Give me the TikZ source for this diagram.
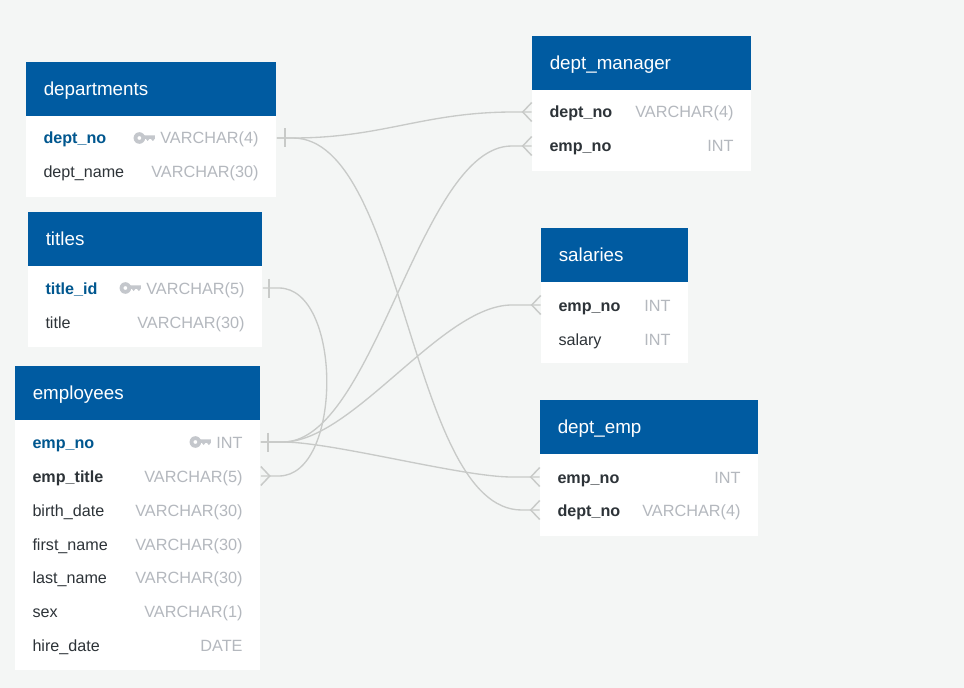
\documentclass[tikz,border=0pt]{standalone}
\usepackage{fontspec}
\setmainfont{Liberation Sans}
\usetikzlibrary{calc}
\definecolor{pagebg}{HTML}{F4F6F5}
\definecolor{headblue}{HTML}{005BA1}
\definecolor{pkblue}{HTML}{00578F}
\definecolor{darktext}{HTML}{2D3338}
\definecolor{typegrey}{HTML}{B4B8BE}
\definecolor{keygrey}{HTML}{C4C7CC}
\definecolor{linkgrey}{HTML}{C8CAC8}
\tikzset{
  headbox/.style={fill=headblue,draw=none,inner sep=0pt,anchor=north west},
  bodybox/.style={fill=white,draw=none,inner sep=0pt,anchor=north west},
  rowcell/.style={draw=none,inner sep=0pt,minimum height=25.5pt},
  headtext/.style={text=white,font=\fontsize{14.1}{16}\selectfont,inner sep=0pt,anchor=base west},
  fieldtext/.style={text=darktext,font=\fontsize{12.1}{14}\selectfont,inner sep=0pt,anchor=base west},
  fkfield/.style={fieldtext,font=\fontsize{12.1}{14}\selectfont\bfseries},
  pkfield/.style={fieldtext,text=pkblue,font=\fontsize{12.1}{14}\selectfont\bfseries},
  typetext/.style={text=typegrey,font=\fontsize{12.2}{14}\selectfont,inner sep=0pt,anchor=base east},
  link/.style={draw=linkgrey,line width=1pt},
  endmark/.style={draw=linkgrey,line width=1.1pt}
}
% \etable{name}{x}{y}{width}{body height}{title}
\newcommand{\etable}[6]{%
  \node[bodybox,minimum width=#4*0.75pt,minimum height=#5*0.75pt] (#1body) at (#2,#3+54) {};
  \node[headbox,minimum width=#4*0.75pt,minimum height=54*0.75pt] (#1) at (#2,#3) {};
  \node[headtext] (#1title) at ($(#1.west)+(17.5,6.5)$) {#6};
}
% \erow{table}{row name}{y}{style}{label}{type}
\newcommand{\erow}[6]{%
  \path let \p1=(#1body.west), \p2=(#1body.east) in
    node[rowcell,minimum width=\x2-\x1] (#2) at (#1body.north |- 0,#3) {};
  \node[#4] (#2label) at ($(#2.west)+(17.5,6)$) {#5};
  \node[typetext] (#2type) at ($(#2.east)+(-18,6)$) {#6};
}
% \keyicon{row name}
\newcommand{\keyicon}[1]{%
  \coordinate (#1key) at ($(#1type.base west)+(-26.5,-6)$);
  \fill[keygrey,even odd rule] ($(#1key)+(5.8,0)$) circle (5.8) ($(#1key)+(5.8,0)$) circle (2);
  \fill[keygrey] ($(#1key)+(9,-2.6)$) -- ++(12.3,0) -- ++(0,3.4) -- ++(-2,2.2) -- ++(-2,-2.2) -- ++(-1.4,0) -- ++(-1.8,2.2) -- ++(-1.8,-2.2) -- ++(-3.3,0) -- cycle;
}
% \onebar{row name}{offset}
\newcommand{\onebar}[2]{\draw[endmark] ($(#1.east)+(#2,-9.5)$) -- ++(0,19);}
% \crowleft{row name}: foot opening to the table on the right of the line
\newcommand{\crowleft}[1]{\draw[endmark] ($(#1.west)+(0,-9.5)$) -- ++(-9,9.5) -- ++(9,9.5);}
\newcommand{\crowright}[1]{\draw[endmark] ($(#1.east)+(0,-9.5)$) -- ++(9,9.5) -- ++(-9,9.5);}
\begin{document}
\begin{tikzpicture}[x=0.75pt,y=-0.75pt]
\useasboundingbox (0,0) rectangle (964,688);
\fill[pagebg] (0,0) rectangle (964,688);

\etable{departments}{26}{62}{250}{81}{departments}
\etable{titles}{28}{212}{234}{81}{titles}
\etable{employees}{15}{366}{245}{250}{employees}
\etable{manager}{532}{36}{219}{81}{dept\_manager}
\etable{salaries}{541}{228}{147}{81}{salaries}
\etable{deptemp}{540}{400}{218}{82}{dept\_emp}

\erow{departments}{depno}{138}{pkfield}{dept\_no}{VARCHAR(4)}
\erow{departments}{depname}{172}{fieldtext}{dept\_name}{VARCHAR(30)}
\erow{titles}{titid}{288}{pkfield}{title\_id}{VARCHAR(5)}
\erow{titles}{tittitle}{322}{fieldtext}{title}{VARCHAR(30)}
\erow{employees}{empno}{442}{pkfield}{emp\_no}{INT}
\erow{employees}{emptitle}{476}{fkfield}{emp\_title}{VARCHAR(5)}
\erow{employees}{empbirth}{510}{fieldtext}{birth\_date}{VARCHAR(30)}
\erow{employees}{empfirst}{544}{fieldtext}{first\_name}{VARCHAR(30)}
\erow{employees}{emplast}{577}{fieldtext}{last\_name}{VARCHAR(30)}
\erow{employees}{empsex}{611}{fieldtext}{sex}{VARCHAR(1)}
\erow{employees}{emphire}{645}{fieldtext}{hire\_date}{DATE}
\erow{manager}{mandep}{112}{fkfield}{dept\_no}{VARCHAR(4)}
\erow{manager}{manemp}{146}{fkfield}{emp\_no}{INT}
\erow{salaries}{salemp}{305}{fkfield}{emp\_no}{INT}
\erow{salaries}{salsal}{339}{fieldtext}{salary}{INT}
\erow{deptemp}{deemp}{477}{fkfield}{emp\_no}{INT}
\erow{deptemp}{dedep}{510}{fkfield}{dept\_no}{VARCHAR(4)}

\keyicon{depno}
\keyicon{titid}
\keyicon{empno}

% connectors
\draw[link] (depno.east) -- ++(16,0) .. controls +(90,0) and +(-90,0) .. ($(mandep.west)+(-18,0)$) -- (mandep.west);
\draw[link] (depno.east) -- ++(16,0) .. controls +(112,0) and +(-112,0) .. ($(dedep.west)+(-18,0)$) -- (dedep.west);
\draw[link] (titid.east) -- ++(16,0) .. controls +(64,0) and +(64,0) .. ($(emptitle.east)+(18,0)$) -- (emptitle.east);
\draw[link] (empno.east) -- ++(22,0) .. controls +(92,0) and +(-92,0) .. ($(manemp.west)+(-20,0)$) -- (manemp.west);
\draw[link] (empno.east) -- ++(22,0) .. controls +(70,0) and +(-70,0) .. ($(salemp.west)+(-29,0)$) -- (salemp.west);
\draw[link] (empno.east) -- ++(22,0) .. controls +(50,0) and +(-50,0) .. ($(deemp.west)+(-28,0)$) -- (deemp.west);

\onebar{depno}{8}
\onebar{titid}{6}
\onebar{empno}{7}
\crowright{emptitle}
\crowleft{mandep}
\crowleft{manemp}
\crowleft{salemp}
\crowleft{deemp}
\crowleft{dedep}
\end{tikzpicture}
\end{document}
